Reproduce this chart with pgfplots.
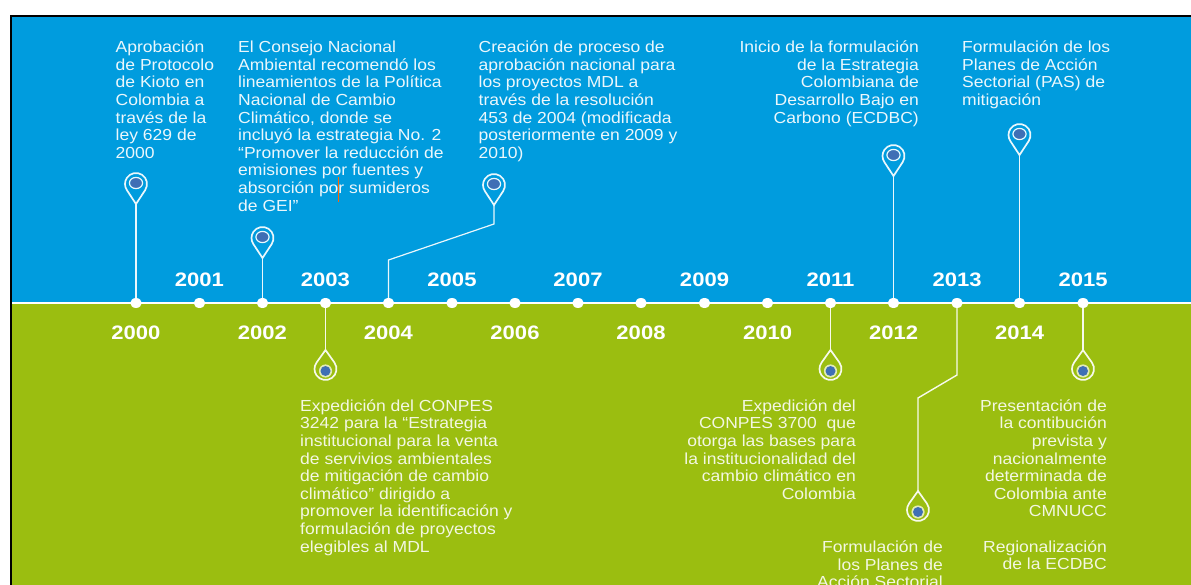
\documentclass[border=0pt]{standalone}
\usepackage{fontspec}
\usepackage{pgfplots}
\pgfplotsset{compat=1.18}
\setmainfont[FakeStretch=1.095]{Liberation Sans}
\newfontfamily\yearfont[FakeStretch=1.13]{Liberation Sans}
\definecolor{bgblue}{HTML}{009CDE}
\definecolor{bggreen}{HTML}{9BBE10}
\definecolor{pinblue}{HTML}{3F6FB5}
\colorlet{txtblue}{white!92!bgblue}
\colorlet{txtgreen}{white!88!bggreen}

\pgfdeclareplotmark{pinup}{%
  \pgfsetlinewidth{1.7pt}\pgfsetstrokecolor{white!92!bgblue}
  \pgfpathmoveto{\pgfpoint{0pt}{0pt}}
  \pgfpathlineto{\pgfpoint{9.2pt}{13.95pt}}
  \pgfpatharc{-33.4}{213.4}{11pt}
  \pgfpathclose\pgfusepathqstroke
  \pgfsetfillcolor{pinblue}
  \pgfpathellipse{\pgfpoint{0pt}{21pt}}{\pgfpoint{6pt}{0pt}}{\pgfpoint{0pt}{5pt}}
  \pgfusepathqfill
  \pgfsetlinewidth{1.2pt}
  \pgfpathellipse{\pgfpoint{0pt}{21pt}}{\pgfpoint{6.6pt}{0pt}}{\pgfpoint{0pt}{5.6pt}}
  \pgfusepathqstroke}
\pgfdeclareplotmark{dropdown}{%
  \pgfsetlinewidth{1.7pt}\pgfsetstrokecolor{white!92!bggreen}
  \pgfpathmoveto{\pgfpoint{0pt}{0pt}}
  \pgfpathlineto{\pgfpoint{8.96pt}{-12.6pt}}
  \pgfpatharc{35.4}{-215.4}{11pt}
  \pgfpathclose\pgfusepathqstroke
  \pgfsetfillcolor{white!70!bggreen}
  \pgfpathcircle{\pgfpoint{0pt}{-21pt}}{6.6pt}
  \pgfusepathqfill
  \pgfsetfillcolor{pinblue}
  \pgfpathcircle{\pgfpoint{0pt}{-21pt}}{5pt}
  \pgfusepathqfill}
\pgfdeclareplotmark{tldot}{%
  \pgfsetfillcolor{white}
  \pgfpathellipse{\pgfpointorigin}{\pgfpoint{5.8pt}{0pt}}{\pgfpoint{0pt}{5pt}}
  \pgfusepathqfill}

% baseline of first line = given y + 12
\newcommand{\txt}{\fontsize{16}{17.6}\selectfont}
\newcommand{\leftblock}[4]{\node[anchor=north west,inner sep=0pt,align=left,font=\txt,text=#3]
  at (axis cs:#1,#2-12) {\rule{0pt}{12pt}#4};}
\newcommand{\rightblock}[4]{\node[anchor=north east,inner sep=0pt,align=right,font=\txt,text=#3]
  at (axis cs:#1,#2-12) {\rule{0pt}{12pt}#4};}
\newcommand{\yearlabel}[3]{\node[anchor=base,inner sep=0pt,font=\yearfont\bfseries\fontsize{19.5}{20}\selectfont,text=white]
  at (axis cs:#1,#2) {#3};}

\begin{document}
\begin{tikzpicture}
\begin{axis}[
    scale only axis,
    width=1191pt,
    height=585pt,
    xmin=0, xmax=1191,
    ymin=0, ymax=585,
    y dir=reverse,
    axis lines=none,
    clip=true,
]
% background bands
\addplot[fill=white, draw=none] coordinates {(0,0) (1191,0) (1191,585) (0,585)} -- cycle;
\addplot[fill=bgblue, draw=none] coordinates {(11,16) (1191,16) (1191,303) (11,303)} -- cycle;
\addplot[fill=bggreen, draw=none] coordinates {(11,303) (1191,303) (1191,585) (11,585)} -- cycle;
\addplot[black, line width=2.8pt] coordinates {(11,585) (11,16) (1191,16)};

% timeline
\addplot[white, line width=1.6pt] coordinates {(12,303) (1191,303)};

% stems above
\addplot[white!92!bgblue, line width=1.2pt] coordinates {(136,303) (136,204)};
\addplot[white!92!bgblue, line width=1.2pt] coordinates {(262.5,303) (262.5,258)};
\addplot[white!92!bgblue, line width=1.2pt] coordinates {(388.5,303) (388.5,260) (494,224) (494,205)};
\addplot[white!92!bgblue, line width=1.2pt] coordinates {(893.5,303) (893.5,176)};
\addplot[white!92!bgblue, line width=1.2pt] coordinates {(1019.5,303) (1019.5,155)};
% stems below
\addplot[white!92!bggreen, line width=1.2pt] coordinates {(325.5,303) (325.5,350)};
\addplot[white!92!bggreen, line width=1.2pt] coordinates {(830.5,303) (830.5,350)};
\addplot[white!92!bggreen, line width=1.4pt] coordinates {(957,303) (957,375) (918,398) (918,491)};
\addplot[white!92!bggreen, line width=1.2pt] coordinates {(1083,303) (1083,350)};

\addplot[only marks, mark=tldot] coordinates {
  (136,303) (199.5,303) (262.5,303) (325.5,303) (388.5,303) (452,303)
  (515,303) (578,303) (641,303) (704.5,303) (767.5,303) (830.5,303)
  (893.5,303) (957,303) (1019.5,303) (1083,303)};
\addplot[only marks, mark=pinup] coordinates {
  (136,204) (262.5,258) (494,205) (893.5,176) (1019.5,155)};
\addplot[only marks, mark=dropdown] coordinates {
  (325.5,350) (830.5,350) (918,491) (1083,350)};

% stray cursor in the source image
\addplot[orange!80!red, line width=0.6pt] coordinates {(338,177) (338,202)};

% years
\yearlabel{136}{339}{2000}
\yearlabel{199.5}{287}{2001}
\yearlabel{262.5}{339}{2002}
\yearlabel{325.5}{287}{2003}
\yearlabel{388.5}{339}{2004}
\yearlabel{452}{287}{2005}
\yearlabel{515}{339}{2006}
\yearlabel{578}{287}{2007}
\yearlabel{641}{339}{2008}
\yearlabel{704.5}{287}{2009}
\yearlabel{767.5}{339}{2010}
\yearlabel{830.5}{287}{2011}
\yearlabel{893.5}{339}{2012}
\yearlabel{957}{287}{2013}
\yearlabel{1019.5}{339}{2014}
\yearlabel{1083}{287}{2015}

% upper texts
\leftblock{115.5}{52.5}{txtblue}{Aprobación\\de Protocolo\\de Kioto en\\Colombia a\\través de la\\ley 629 de\\2000}
\leftblock{238}{52.5}{txtblue}{El Consejo Nacional\\Ambiental recomendó los\\lineamientos de la Política\\Nacional de Cambio\\Climático, donde se\\incluyó la estrategia No. 2\\“Promover la reducción de\\emisiones por fuentes y\\absorción por sumideros\\de GEI”}
\leftblock{478.5}{52.5}{txtblue}{Creación de proceso de\\aprobación nacional para\\los proyectos MDL a\\través de la resolución\\453 de 2004 (modificada\\posteriormente en 2009 y\\2010)}
\rightblock{919}{52.5}{txtblue}{Inicio de la formulación\\de la Estrategia\\Colombiana de\\Desarrollo Bajo en\\Carbono (ECDBC)}
\leftblock{962}{52.5}{txtblue}{Formulación de los\\Planes de Acción\\Sectorial (PAS) de\\mitigación}

% lower texts
\leftblock{300}{411}{txtgreen}{Expedición del CONPES\\3242 para la “Estrategia\\institucional para la venta\\de servivios ambientales\\de mitigación de cambio\\climático” dirigido a\\promover la identificación y\\formulación de proyectos\\elegibles al MDL}
\rightblock{856}{411}{txtgreen}{Expedición del\\CONPES 3700\ \ que\\otorga las bases para\\la institucionalidad del\\cambio climático en\\Colombia}
\rightblock{943}{552.5}{txtgreen}{Formulación de\\los Planes de\\Acción Sectorial}
\rightblock{1107}{411}{txtgreen}{Presentación de\\la contibución\\prevista y\\nacionalmente\\determinada de\\Colombia ante\\CMNUCC\\[17.6pt]Regionalización\\de la ECDBC}
\end{axis}
\end{tikzpicture}
\end{document}
